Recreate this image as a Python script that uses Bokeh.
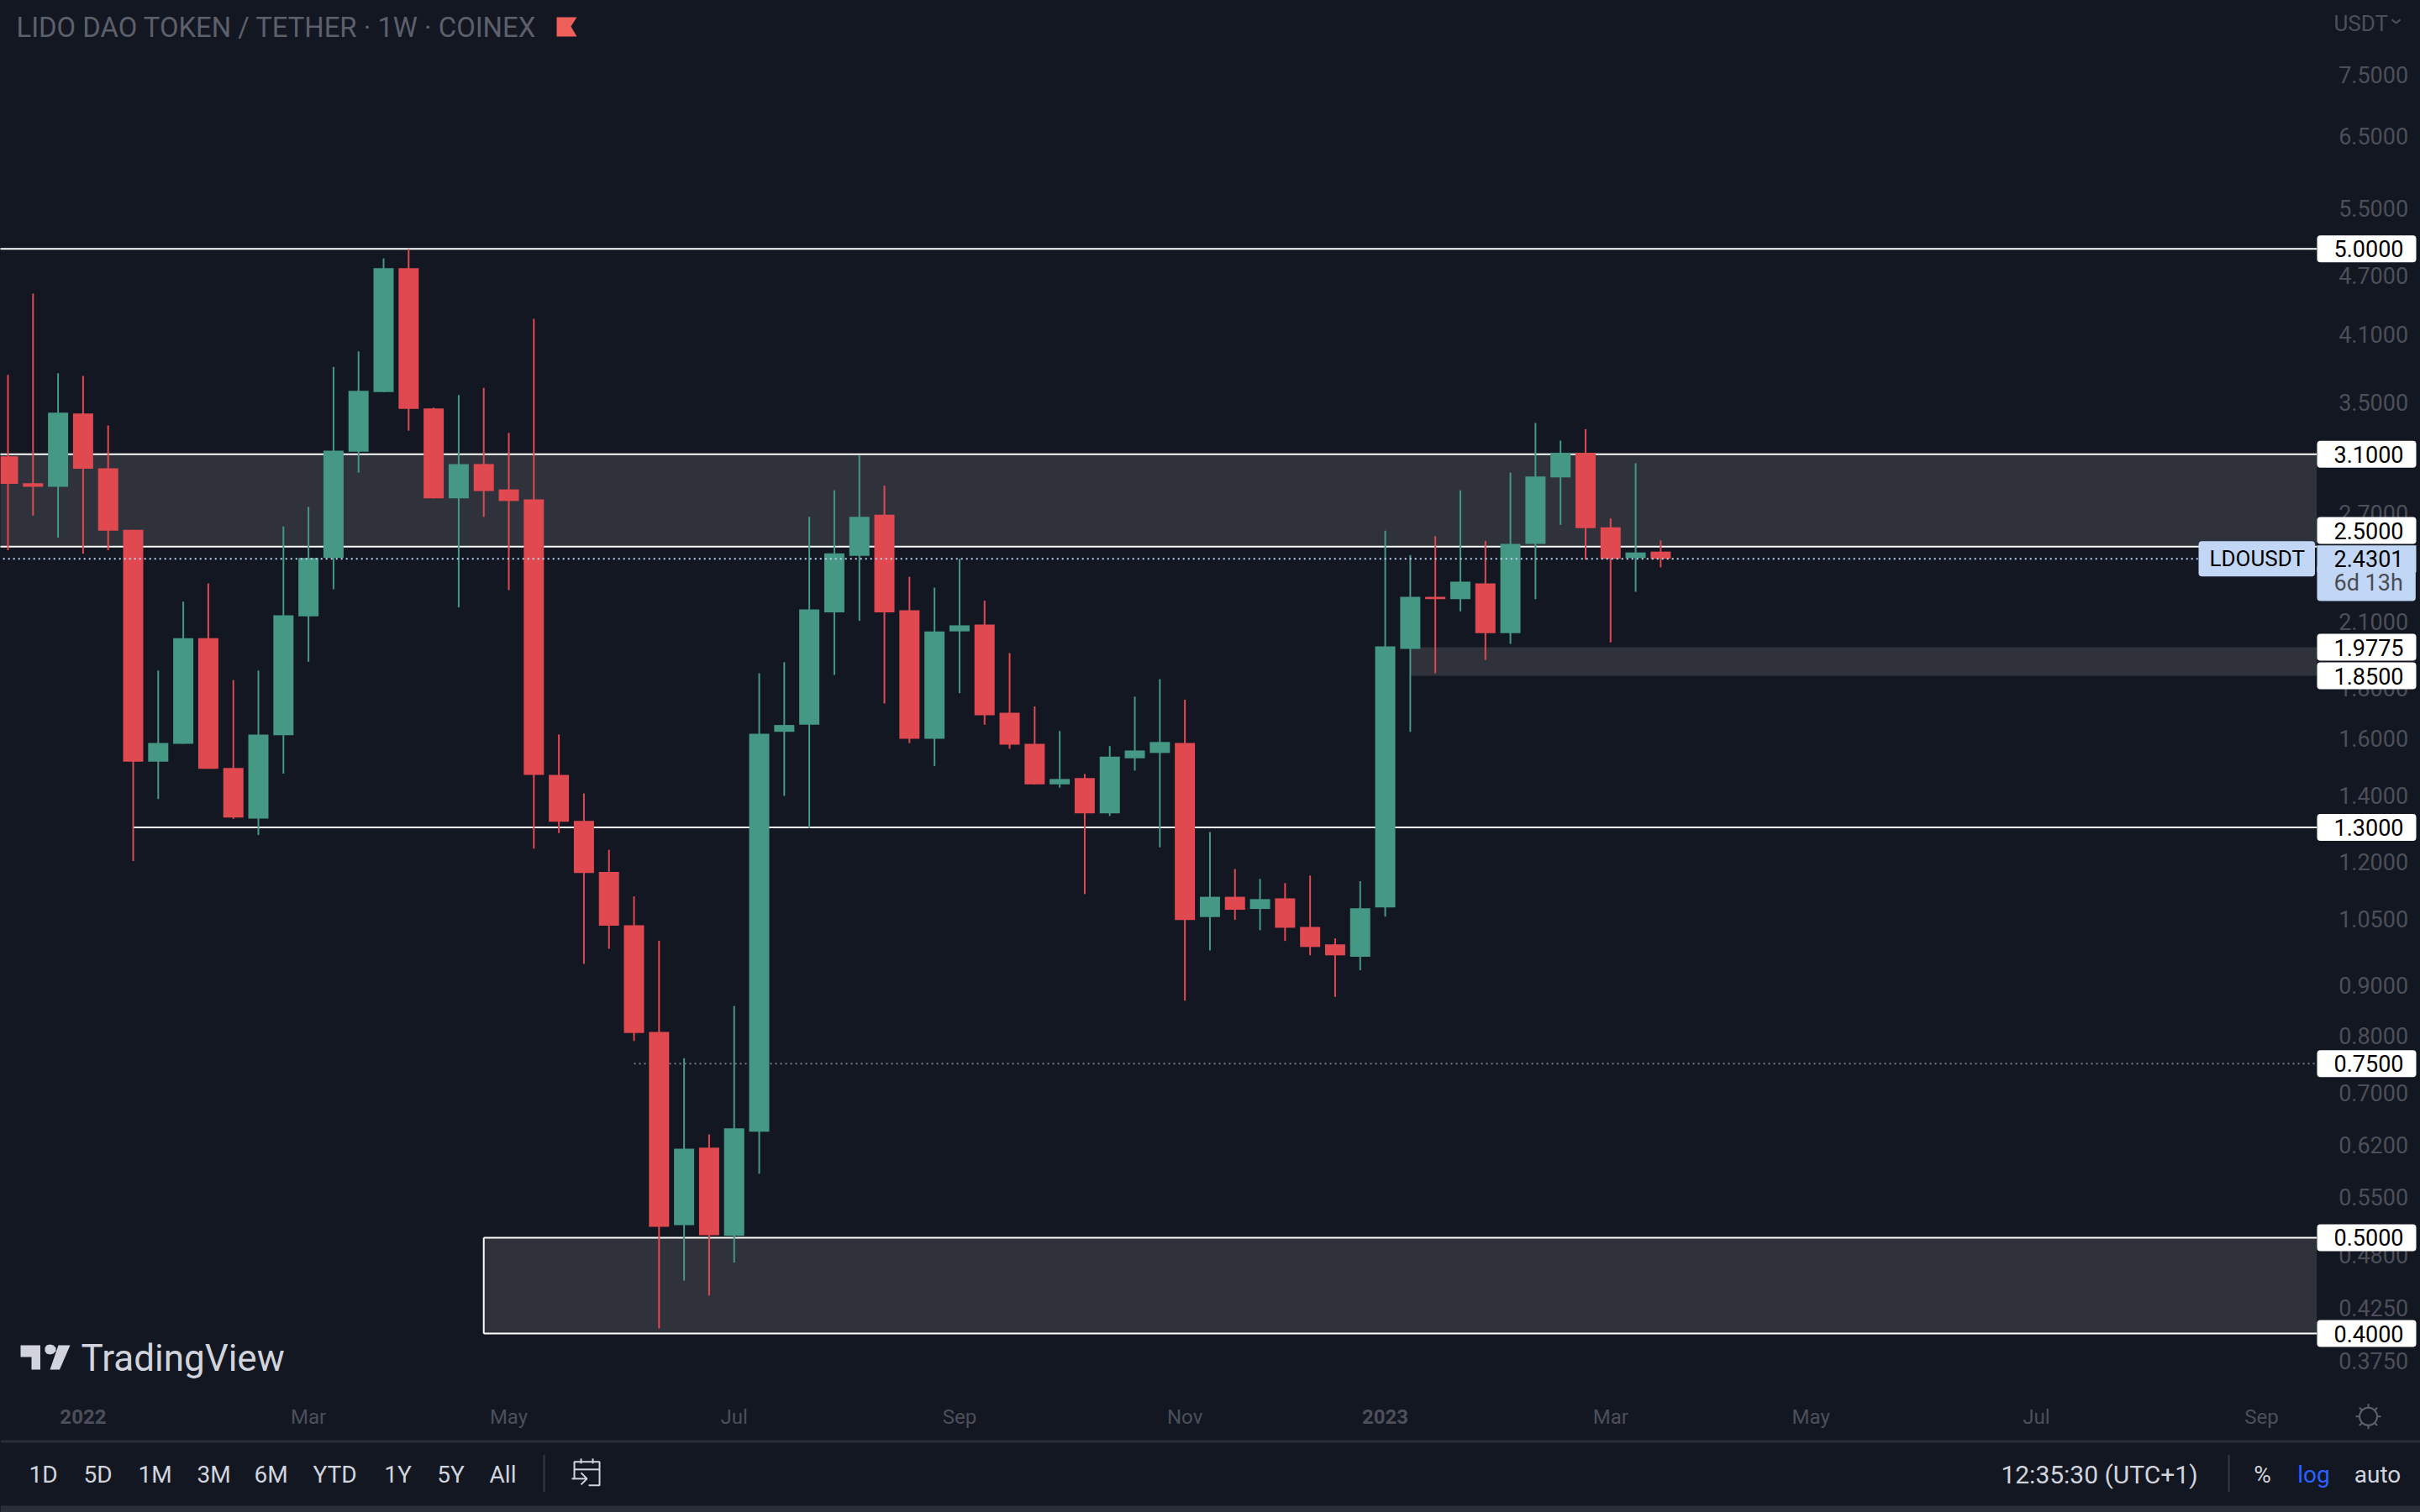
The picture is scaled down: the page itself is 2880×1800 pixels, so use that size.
from math import exp

from bokeh.embed import file_html
from bokeh.models import BoxAnnotation, ColumnDataSource, FixedTicker, Label, LinearAxis, NumeralTickFormatter, PolyAnnotation, Range1d
from bokeh.plotting import figure
from bokeh.resources import INLINE

# weekly LDOUSDT candles
opens = [3.085, 2.897, 2.874, 3.408, 3.0, 2.6, 1.515, 1.579, 2.02, 1.493, 1.327, 1.611, 2.125, 2.434, 3.118, 3.582,
         4.78, 3.448, 2.797, 3.03, 2.856, 2.791, 1.469, 1.32, 1.172, 1.035, 0.8073, 0.5147, 0.6166, 0.5021, 0.64,
         1.624, 1.651, 2.145, 2.447, 2.693, 2.155, 1.598, 2.052, 2.085, 1.698, 1.579, 1.437, 1.458, 1.343, 1.527,
         1.546, 1.582, 1.055, 1.106, 1.075, 1.102, 1.031, 0.99, 0.962, 1.079, 1.97, 2.224, 2.212, 2.295, 2.044,
         2.516, 2.937, 3.11, 2.615, 2.434, 2.471]
highs = [3.73, 4.507, 3.743, 3.72, 3.314, 2.6, 1.873, 2.199, 2.295, 1.832, 1.873, 2.62, 2.742, 3.8, 3.939, 4.891,
         5.0, 3.455, 3.558, 3.618, 3.258, 4.25, 1.614, 1.407, 1.234, 1.107, 0.998, 0.7596, 0.636, 0.8579, 1.861,
         1.91, 2.679, 2.85, 3.091, 2.88, 2.33, 2.272, 2.43, 2.204, 1.951, 1.723, 1.627, 1.472, 1.571, 1.763,
         1.836, 1.75, 1.286, 1.18, 1.153, 1.142, 1.162, 1.004, 1.147, 2.595, 2.451, 2.561, 2.85, 2.532, 2.97,
         3.334, 3.2, 3.287, 2.669, 3.036, 2.536]
lows = [2.479, 2.687, 2.553, 2.459, 2.479, 1.202, 1.389, 1.579, 1.49, 1.326, 1.277, 1.473, 1.912, 2.264, 2.97, 3.582,
        3.275, 2.797, 2.17, 2.679, 2.259, 1.237, 1.283, 0.946, 0.98, 0.7905, 0.4047, 0.4525, 0.437, 0.4719, 0.5804,
        1.399, 1.298, 1.854, 2.103, 1.735, 1.582, 1.5, 1.777, 1.651, 1.561, 1.437, 1.426, 1.113, 1.335, 1.484,
        1.241, 0.8684, 0.976, 1.048, 1.023, 0.998, 0.965, 0.876, 0.932, 1.056, 1.624, 1.861, 2.15, 1.92, 1.993,
        2.212, 2.63, 2.425, 2.0, 2.25, 2.382]
closes = [2.894, 2.874, 3.415, 2.997, 2.595, 1.515, 1.582, 2.02, 1.49, 1.33, 1.614, 2.13, 2.434, 3.125, 3.593, 4.78,
          3.445, 2.797, 3.03, 2.845, 2.78, 1.469, 1.317, 1.169, 1.034, 0.8055, 0.5127, 0.615, 0.503, 0.6449, 1.617,
          1.65, 2.16, 2.461, 2.679, 2.145, 1.598, 2.052, 2.081, 1.688, 1.576, 1.437, 1.455, 1.343, 1.533, 1.555,
          1.586, 1.048, 1.106, 1.073, 1.1, 1.029, 0.984, 0.965, 1.077, 1.982, 2.224, 2.212, 2.304, 2.044, 2.516,
          2.943, 3.11, 2.61, 2.43, 2.466, 2.4301]
weeks = list(range(len(opens)))

price_ticks = [7.5, 6.5, 5.5, 4.7, 4.1, 3.5, 2.7, 2.1, 1.8, 1.6, 1.4, 1.2, 1.05, 0.9, 0.8, 0.7, 0.62, 0.55, 0.48,
               0.425, 0.375]
month_ticks = [12, 20, 29, 38, 47, 64, 72, 81, 90]
month_labels = ["Mar", "May", "Jul", "Sep", "Nov", "Mar", "May", "Jul", "Sep"]
year_ticks = [3, 55]
year_labels = ["2022", "2023"]

full_lines = [5.0, 3.1, 2.5]
support_line = 1.3
dotted_line = 0.75
last_price = 2.4301
tag_prices = [5.0, 3.1, 1.9775, 1.85, 1.3, 0.75, 0.5, 0.4]

range_buttons = ["1D", "5D", "1M", "3M", "6M", "YTD", "1Y", "5Y", "All"]
button_x = [51, 116, 184, 254, 322, 398, 473, 536, 598]
status_texts = ["12:35:30 (UTC+1)", "%", "log", "auto"]
status_x = [2498, 2692, 2753, 2829]
status_colors = ["#d1d4dc", "#d1d4dc", "#2962ff", "#d1d4dc"]

BG = "#131722"
ZONE = "#2f323b"
GREEN = "#459884"
RED = "#e04950"
AXIS_TEXT = "#4c4f59"
TAG_BLUE = "#c1d7f5"
FONT = "Roboto"
CHART_END = 92.2   # last index before the price scale
PANE_BOTTOM = 0.3456
TAG_PADDING = (20, 15, 6, 6)


def sy(y):
    # screen y counts from the bottom of the page
    return 1800 - y


def xd(x):
    return (x - 9) / 29.8


def yd(y):
    return 5 * exp((296 - y) / 511.2)


# the frame fills the whole canvas, the axes are pinned inside it
p = figure(width=2880, height=1800, output_backend="svg", toolbar_location=None,
           x_range=Range1d(-0.302, 96.34), y_range=Range1d(0.2637, 8.919), y_axis_type="log",
           x_axis_type=None, background_fill_color=BG, border_fill_color=BG,
           min_border=0, outline_line_color=None, y_axis_location=None)
p.grid.visible = False

yaxis = LinearAxis(fixed_location=CHART_END, ticker=FixedTicker(ticks=price_ticks),
                   formatter=NumeralTickFormatter(format="0.0000"),
                   minor_tick_line_color=None, major_tick_line_color=None, axis_line_color=None,
                   major_label_text_color=AXIS_TEXT, major_label_text_font=FONT,
                   major_label_text_font_size="27px", major_label_standoff=20)
p.add_layout(yaxis, "right")
xaxis = LinearAxis(fixed_location=PANE_BOTTOM, ticker=FixedTicker(ticks=month_ticks),
                   major_label_overrides=dict(zip(month_ticks, month_labels)),
                   minor_tick_line_color=None, major_tick_line_color=None, axis_line_color=None,
                   major_label_text_color=AXIS_TEXT, major_label_text_font=FONT,
                   major_label_text_font_size="24px", major_label_standoff=5)
p.add_layout(xaxis, "below")

# zones and levels go under the candles
p.quad(left=-1, right=CHART_END, top=3.1, bottom=2.5, fill_color=ZONE, line_color=None)
p.quad(left=56, right=CHART_END, top=1.9775, bottom=1.85, fill_color=ZONE, line_color=None)
p.quad(left=19, right=CHART_END, top=0.5, bottom=0.4, fill_color=ZONE, line_color=None)
p.segment(x0=19, x1=19, y0=0.4, y1=0.5, line_color="white", line_width=2)
for level in full_lines:
    p.segment(x0=-1, x1=CHART_END, y0=level, y1=level, line_color="white", line_width=2)
for level in [0.5, 0.4]:
    p.segment(x0=19, x1=CHART_END, y0=level, y1=level, line_color="white", line_width=2)
p.segment(x0=5, x1=CHART_END, y0=support_line, y1=support_line, line_color="white", line_width=2)
p.segment(x0=25, x1=CHART_END, y0=dotted_line, y1=dotted_line, line_color="#787b86", line_width=2, line_dash="2 4")

colors = [GREEN if c >= o else RED for o, c in zip(opens, closes)]
source = ColumnDataSource(dict(week=weeks, open=opens, high=highs, low=lows, close=closes, color=colors,
                               top=[max(o, c) for o, c in zip(opens, closes)],
                               bottom=[min(o, c) for o, c in zip(opens, closes)]))
p.segment(x0="week", x1="week", y0="low", y1="high", line_color="color", line_width=2, source=source)
p.vbar(x="week", width=0.805, top="top", bottom="bottom", fill_color="color", line_color=None, source=source)

# last price line runs over the candles
p.segment(x0=-1, x1=87.5, y0=last_price, y1=last_price, line_color=TAG_BLUE, line_width=2, line_dash="2 4")


def add_text(x, y, text, size="26px", color="black", font=FONT, align="left", **kw):
    p.add_layout(Label(x=x, y=sy(y), x_units="screen", y_units="screen", text=text, text_font=font,
                       text_font_size=size, text_color=color, text_align=align, text_baseline="middle", **kw))


add_text(19, 32, "LIDO DAO TOKEN / TETHER · 1W · COINEX", size="32.8px", color="#5d606b")
add_text(2777, 27, "USDT", size="26px", color=AXIS_TEXT)
p.line(x=[xd(2846), xd(2851), xd(2856)], y=[yd(23), yd(27), yd(23)], line_color=AXIS_TEXT, line_width=2)

flag = PolyAnnotation(xs=[662, 686, 679, 686, 662], ys=[sy(v) for v in [20, 20, 31, 43, 43]],
                      xs_units="screen", ys_units="screen", fill_color="#ef5f5a", fill_alpha=1, line_color=None)
p.add_layout(flag)

# TradingView mark
logo_parts = [([24, 47.5, 47.5, 37, 37, 24], [1601, 1601, 1630, 1630, 1615, 1615]),
              ([55, 59, 63, 66, 66, 63, 59, 55, 53, 53], [1601, 1600, 1601, 1604, 1608, 1611, 1612, 1611, 1608, 1604]),
              ([69, 83, 70.5, 59], [1601, 1601, 1630, 1630])]
for part_x, part_y in logo_parts:
    p.add_layout(PolyAnnotation(xs=part_x, ys=[sy(v) for v in part_y], xs_units="screen", ys_units="screen",
                                fill_color="#d1d4dc", fill_alpha=1, line_color=None))
add_text(96, 1616, "TradingView", size="44px", color="#d1d4dc")

for tick, label in zip(year_ticks, year_labels):
    p.add_layout(Label(x=tick, y=sy(1686), y_units="screen", text=label, text_font=FONT, text_font_size="24px",
                       text_font_style="bold", text_color=AXIS_TEXT, text_align="center", text_baseline="middle"))

# price tags sit over the axis
for price in tag_prices:
    p.add_layout(Label(x=2757, y=price, x_units="screen", text=f"{price:.4f}", text_font=FONT,
                       text_font_size="27px", text_color="black", text_baseline="middle",
                       background_fill_color="white", padding=TAG_PADDING, border_radius=4))
# the 2.5 tag is pushed up out of the way of the last price tag
add_text(2757, 631, "2.5000", size="27px", background_fill_color="white", padding=TAG_PADDING, border_radius=4)
add_text(2757, 693, "6d 13h", size="27px", color="#4a4d55", background_fill_color=TAG_BLUE,
         padding=TAG_PADDING, border_radius=4)
p.add_layout(Label(x=2757, y=last_price, x_units="screen", text=f"{last_price:.4f}", text_font=FONT,
                   text_font_size="27px", text_color="black", text_baseline="middle",
                   background_fill_color=TAG_BLUE, padding=TAG_PADDING))
p.add_layout(Label(x=2616, y=last_price, x_units="screen", text="LDOUSDT", text_font=FONT,
                   text_font_size="26px", text_color="black", text_baseline="middle",
                   background_fill_color=TAG_BLUE, padding=(13, 12, 6, 6), border_radius=4))

# settings icon
p.scatter(x=[xd(2818)], y=[yd(1686)], marker="asterisk", size=30, fill_color=None, line_color="#5d606b", line_width=2)
p.scatter(x=[xd(2818)], y=[yd(1686)], marker="circle", size=21, fill_color=BG, line_color="#5d606b", line_width=2)

# bottom toolbar
p.add_layout(BoxAnnotation(left=0, right=2880, top=sy(1714), bottom=sy(1717), left_units="screen", right_units="screen",
                           top_units="screen", bottom_units="screen", fill_color="#2a2e39", fill_alpha=1, line_color=None))
p.add_layout(BoxAnnotation(left=0, right=2880, top=sy(1792), bottom=sy(1800), left_units="screen", right_units="screen",
                           top_units="screen", bottom_units="screen", fill_color="#2a2e39", fill_alpha=1, line_color=None))
for button, x in zip(range_buttons, button_x):
    add_text(x, 1755, button, size="28px", color="#d1d4dc", align="center")
for text, x, color in zip(status_texts, status_x, status_colors):
    add_text(x, 1755, text, size="30px" if text.startswith("12") else "28px", color=color, align="center")
p.segment(x0=[xd(647), xd(2652)], x1=[xd(647), xd(2652)], y0=[yd(1732), yd(1732)], y1=[yd(1776), yd(1776)],
          line_color="#363a45", line_width=2)
# calendar icon
icon_x = [[683, 683, 713, 713, 700], [683, 713], [691, 691], [705, 705], [680, 698], [691, 698, 691]]
icon_y = [[1760, 1740, 1740, 1768, 1768], [1749, 1749], [1736, 1742], [1736, 1742], [1760, 1760], [1753, 1760, 1767]]
p.multi_line(xs=[[xd(v) for v in part] for part in icon_x], ys=[[yd(v) for v in part] for part in icon_y],
             line_color="#d1d4dc", line_width=2)

page_style = "{% block postamble %}<style>html, body { background: #131722; }</style>{% endblock %}"
open("out.html", "w").write(file_html(p, INLINE, template=page_style))
